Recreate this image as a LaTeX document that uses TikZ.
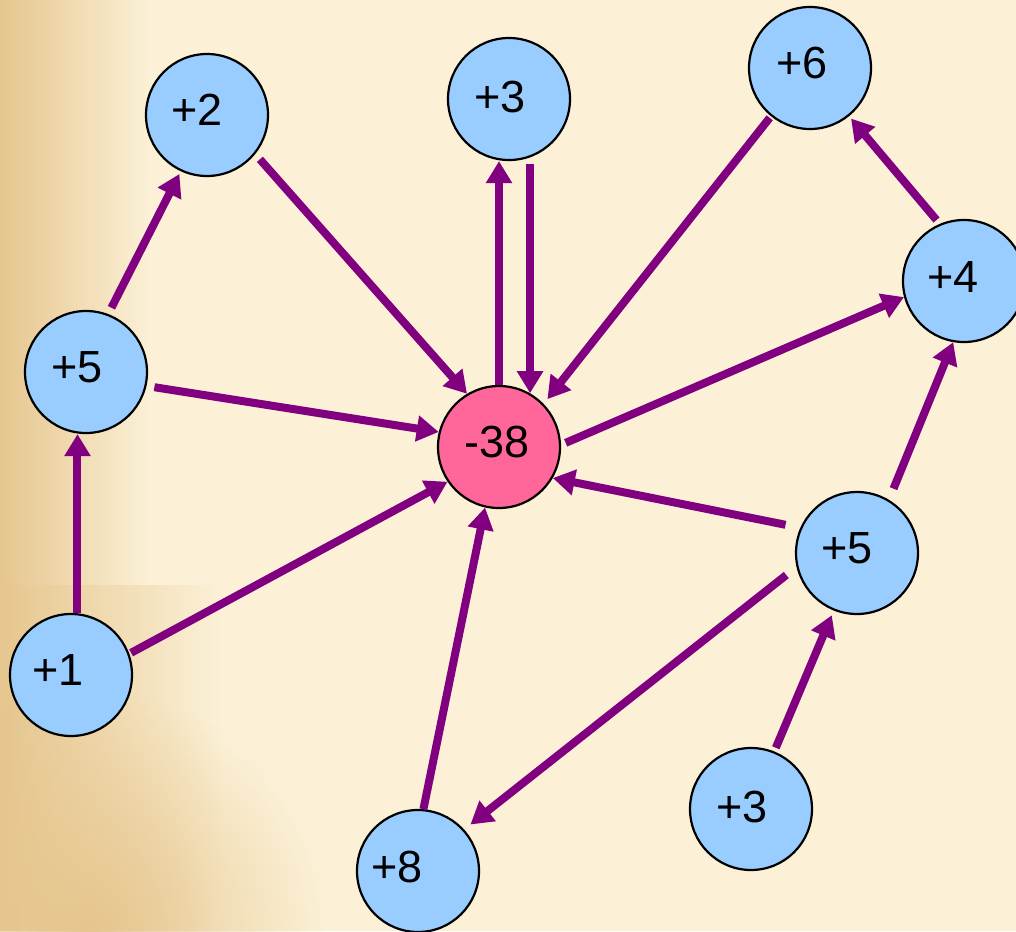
\documentclass[tikz,border=0pt]{standalone}
\usepackage{fontspec}
\setmainfont{Liberation Sans}
\usetikzlibrary{arrows.meta,calc,fadings}
\definecolor{bgc}{HTML}{FCF1D7}
\definecolor{tanc}{HTML}{E6C68E}
\definecolor{nodeblue}{HTML}{99CCFF}
\definecolor{nodepink}{HTML}{FF6699}
\definecolor{arrowpurple}{HTML}{800080}
\tikzfading[name=blobfade, inner color=transparent!0, outer color=transparent!100]
\tikzset{
  bc/.style={circle, draw=black, line width=2.2pt, fill=nodeblue, minimum size=122pt, inner sep=0pt},
  pc/.style={bc, fill=nodepink},
  lbl/.style={font=\fontsize{45}{50}\selectfont, text=black, inner sep=0pt},
  arr/.style={draw=arrowpurple, line width=8pt, -{Triangle[length=22pt,width=25pt]}},
}
\begin{document}
\begin{tikzpicture}[x=1pt,y=-1pt]
\useasboundingbox (0,0) rectangle (1016,931);
\clip (0,0) rectangle (1016,931);
% background
\fill[bgc] (0,0) rectangle (1016,931);
\fill[tanc, path fading=east] (0,0) rectangle (150,585);
\fill[tanc, path fading=east] (0,585) rectangle (220,931);
\fill[tanc, path fading=blobfade] (90,931) circle (240);
% nodes
\node[pc, label={[lbl,xshift=-2pt,yshift=5pt]center:-38}] (m) at (499,447) {};
\node[bc, label={[lbl,xshift=-10pt,yshift=5pt]center:+2}] (n2) at (207,115) {};
\node[bc, label={[lbl,xshift=-9pt,yshift=2pt]center:+3}] (t3) at (509,99) {};
\node[bc, label={[lbl,xshift=-8pt,yshift=5pt]center:+6}] (n6) at (810,68) {};
\node[bc, label={[lbl,xshift=-11pt,yshift=4pt]center:+4}] (n4) at (964,281) {};
\node[bc, label={[lbl,xshift=-9pt,yshift=5pt]center:+5}] (l5) at (86,372) {};
\node[bc, label={[lbl,xshift=-10pt,yshift=5pt]center:+5}] (r5) at (857,553) {};
\node[bc, label={[lbl,xshift=-13pt,yshift=5pt]center:+1}] (n1) at (71,675) {};
\node[bc, label={[lbl,xshift=-9pt,yshift=2pt]center:+3}] (b3) at (751,809) {};
\node[bc, label={[lbl,xshift=-21pt,yshift=4pt]center:+8}] (n8) at (418,871) {};
% connectors
\draw[arr, shorten <=7pt] (n2.-39) -- (m.121);
\draw[arr] (m.north) -- (m.north |- t3.south);
\draw[arr, shorten <=3pt] (t3.south -| m.60) -- (m.60);
\draw[arr, shorten <=2pt, shorten >=6pt] (n6.231) -- (m.44);
\draw[arr, shorten <=5pt, shorten >=3pt] (n4.113) -- (n6.-51);
\draw[arr, shorten <=5pt] (m.2) -- (n4.195);
\draw[arr, shorten <=7pt, shorten >=3pt] (l5.69) -- (n2.245);
\draw[arr, shorten <=8pt] (l5.-13) -- (m.166);
\draw[arr] (n1.84) -- (n1.84 |- l5.south);
\draw[arr, shorten <=2pt] (n1.20) -- (m.214);
\draw[arr, shorten <=15pt] (r5.156) -- (m.-30);
\draw[arr, shorten <=12pt] (r5.59) -- (n4.260);
\draw[arr, shorten <=13pt, shorten >=8pt] (r5.193) -- (n8.42);
\draw[arr, shorten <=4pt, shorten >=5pt] (b3.68) -- (r5.248);
\draw[arr] (n8.85) -- (m.257);
\end{tikzpicture}
\end{document}
